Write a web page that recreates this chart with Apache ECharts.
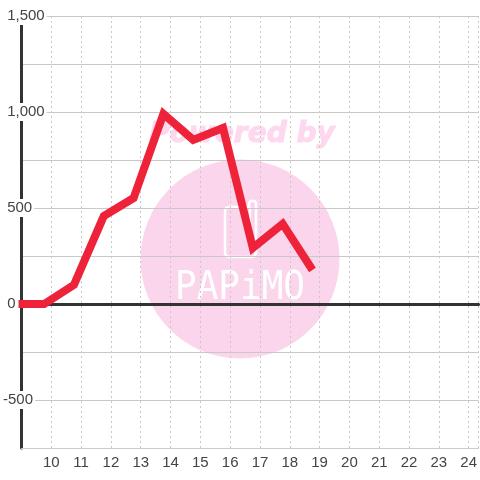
<!DOCTYPE html>
<html>
<head>
<meta charset="utf-8">
<style>
html, body { margin: 0; padding: 0; background: #fff; }
#main { width: 480px; height: 480px; }
</style>
<script src="https://cdn.jsdelivr.net/npm/echarts@6/dist/echarts.min.js"></script>
</head>
<body>
<div id="main"></div>
<script>
const chart = echarts.init(document.getElementById("main"));

const hours = [8.9, 9.76, 10.76, 11.76, 12.76, 13.76, 14.76, 15.76, 16.76, 17.76, 18.76];
const amounts = [0, 0, 100, 458, 552, 990, 855, 917, 292, 417, 177];
const points = hours.map((h, i) => [h, amounts[i]]);

const labelStyle = {
    color: "#444",
    fontFamily: "Liberation Sans",
    fontSize: 15,
};

// watermark logo outline
const logoOutline = [[229, 207], [249, 207], [249, 203], [250.5, 201], [254.5, 201], [256, 203], [256, 253],
    [255, 256], [252, 257], [229, 257], [226, 256], [225, 253], [225, 211], [226, 208], [229, 207]];

const option = {
    animation: false,
    backgroundColor: "#fff",
    grid: { left: 20.5, right: 0, top: 16, bottom: 32 },
    graphic: [
        { type: "circle", z: -1, shape: { cx: 240, cy: 259, r: 99.5 }, style: { fill: "#fbd5ec" } },
        {
            type: "text", z: -1, x: 242, y: 135,
            style: {
                text: "Powered by", fill: "#fdd8ee", align: "center", verticalAlign: "middle",
                font: "italic bold 28px 'DejaVu Sans'", stroke: "#fdd8ee", lineWidth: 1,
            },
        },
        {
            type: "polyline", z: -1, shape: { points: logoOutline },
            style: { fill: "none", stroke: "#fff", lineWidth: 2.5 },
        },
        {
            type: "line", z: -1, shape: { x1: 250, y1: 207, x2: 250, y2: 235 },
            style: { stroke: "#fff", lineWidth: 2 },
        },
        {
            type: "text", z: -1, x: 240, y: 289, scaleY: 1.08,
            style: {
                text: "PAPiMO", fill: "#fff", align: "center", verticalAlign: "middle",
                font: "36px 'DejaVu Sans Mono'", letterSpacing: 3,
            },
        },
    ],
    xAxis: [
        {
            type: "value",
            min: 9,
            max: 24.33,
            interval: 1,
            axisLine: { onZero: false, lineStyle: { color: "#ccc", width: 1 } },
            axisTick: { show: false },
            axisLabel: {
                ...labelStyle,
                margin: 7,
                showMinLabel: false,
                showMaxLabel: false,
            },
            splitLine: { show: true, lineStyle: { color: "#c8c8c8", type: [2, 3], width: 1 } },
        },
        {
            type: "value",
            min: 9,
            max: 24.33,
            axisLine: { onZero: true, lineStyle: { color: "#333", width: 3 } },
            axisTick: { show: false },
            axisLabel: { show: false },
            splitLine: { show: false },
        },
    ],
    yAxis: {
        type: "value",
        min: -750,
        max: 1500,
        interval: 250,
        axisLine: { show: true, onZero: false, lineStyle: { color: "#333", width: 3 } },
        axisTick: { show: false },
        axisLabel: {
            ...labelStyle,
            margin: 18.5,
            align: "left",
            verticalAlign: "middle",
            hideOverlap: false,
            lineHeight: 11,
            backgroundColor: "#fff",
            padding: [7, 2, 0, 0],
            formatter: (v) => {
                if (v % 500 !== 0) return "";
                const text = v.toLocaleString("en-US");
                return v < 0 ? text : " " + text;
            },
        },
        splitLine: { show: true, lineStyle: { color: "#c8c8c8", width: 1 } },
    },
    series: [
        {
            type: "line",
            data: points,
            clip: false,
            showSymbol: false,
            symbol: "none",
            lineStyle: { color: "#ee2238", width: 8, join: "miter" },
            z: 5,
        },
    ],
};

chart.setOption(option);
</script>
</body>
</html>
